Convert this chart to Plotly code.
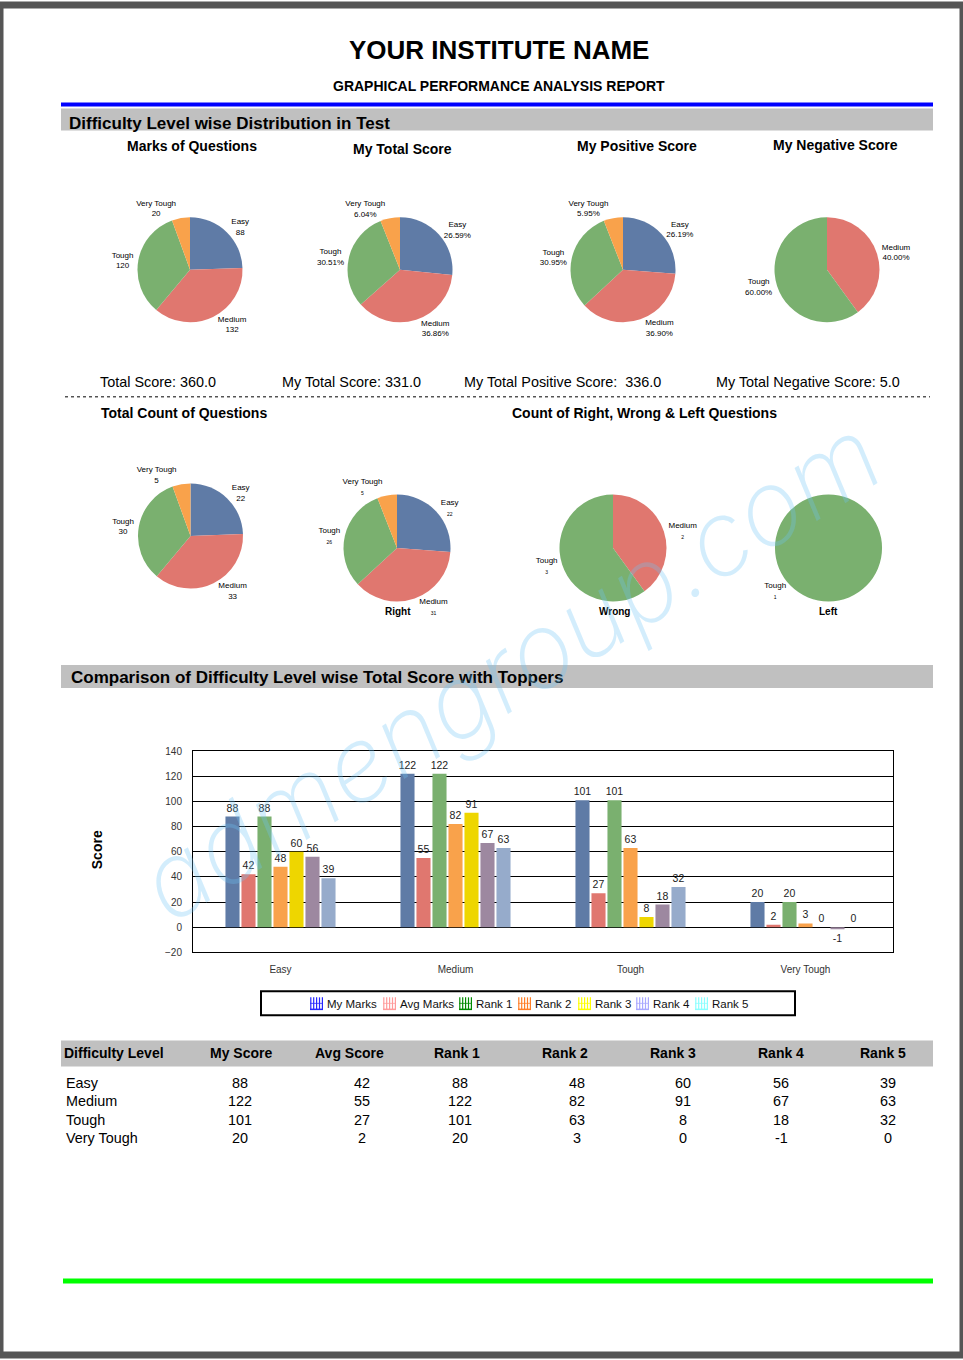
import plotly.graph_objects as go

W, H = 963, 1360
FONT = "Liberation Sans, Arial, sans-serif"

# ---------------- data ----------------
levels = ["Easy", "Medium", "Tough", "Very Tough"]
marks_of_questions = [88, 132, 120, 20]
my_total_score = [88, 122, 101, 20]
my_positive_score = [88, 124, 104, 20]
negative_levels = ["Medium", "Tough"]
my_negative_score = [2, 3]
count_questions = [22, 33, 30, 5]
right_counts = [22, 31, 26, 5]
wrong_levels = ["Medium", "Tough"]
wrong_counts = [2, 3]
left_levels = ["Tough"]
left_counts = [1]

summary_labels = ["Total Score: ", "My Total Score: ", "My Total Positive Score:  ", "My Total Negative Score: "]
summary_values = [360.0, 331.0, 336.0, 5.0]

series_names = ["My Marks", "Avg Marks", "Rank 1", "Rank 2", "Rank 3", "Rank 4", "Rank 5"]
my_marks = [88, 122, 101, 20]
avg_marks = [42, 55, 27, 2]
rank1 = [88, 122, 101, 20]
rank2 = [48, 82, 63, 3]
rank3 = [60, 91, 8, 0]
rank4 = [56, 67, 18, -1]
rank5 = [39, 63, 32, 0]
series_values = [my_marks, avg_marks, rank1, rank2, rank3, rank4, rank5]

table_headers = ["Difficulty Level", "My Score", "Avg Score", "Rank 1", "Rank 2", "Rank 3", "Rank 4", "Rank 5"]
y_ticks = [-20, 0, 20, 40, 60, 80, 100, 120, 140]

# ---------------- styles ----------------
level_colors = {"Easy": "#5F7BA6", "Medium": "#E0776F", "Tough": "#7AB06F", "Very Tough": "#F9A24B"}
bar_colors = ["#5F7BA6", "#E0776F", "#7AB06F", "#F9A24B", "#EED600", "#9D88A0", "#96ABCB"]
legend_colors = ["#2626FF", "#FF9A9A", "#008A00", "#FF7F27", "#FFFF00", "#A8A8FF", "#8CFFFF"]

# vertical placement calibration of the page
Y_SCALE, Y_OFF = 0.9918, 5.5


def px(x):
    return x / W


def py(y):
    return 1 - ((y - Y_OFF) / Y_SCALE) / H


def txt(x, y, s, size, anchor="center", color="#000", angle=0, family=FONT):
    return dict(x=px(x), y=py(y), xref="paper", yref="paper", text=s, showarrow=False,
                xanchor=anchor, yanchor="middle", textangle=angle,
                font=dict(size=size, color=color, family=family))


def rect(x0, y0, x1, y1, fill, line_w=0, line_c=None, layer="below"):
    return dict(type="rect", xref="paper", yref="paper", x0=px(x0), x1=px(x1), y0=py(y1), y1=py(y0),
                fillcolor=fill, line=dict(width=line_w, color=line_c or fill), layer=layer)


def line(x0, y0, x1, y1, color, width=1, dash="solid", layer="above"):
    return dict(type="line", xref="paper", yref="paper", x0=px(x0), x1=px(x1), y0=py(y0), y1=py(y1),
                line=dict(color=color, width=width, dash=dash), layer=layer)


fig = go.Figure()


def add_pie(labels, values, cx, cy, r, template, name, rotation=0):
    fig.add_trace(go.Pie(
        labels=labels, values=values, name=name,
        domain=dict(x=[px(cx - r), px(cx + r)], y=[py(cy + r), py(cy - r)]),
        marker=dict(colors=[level_colors[l] for l in labels], line=dict(width=0)),
        sort=False, direction="clockwise", rotation=rotation,
        textposition="outside", texttemplate=template,
        outsidetextfont=dict(size=8, color="#000", family=FONT),
        showlegend=False, automargin=False, hoverinfo="label+value+percent",
    ))


add_pie(levels, marks_of_questions, 190, 270, 52.5, "%{label}<br>%{value}", "Marks of Questions")
add_pie(levels, my_total_score, 400, 270, 52.5, "%{label}<br>%{percent:.2%}", "My Total Score")
add_pie(levels, my_positive_score, 623, 270, 52.5, "%{label}<br>%{percent:.2%}", "My Positive Score")
add_pie(negative_levels, my_negative_score, 827, 270, 52.5, "%{label}<br>%{percent:.2%}", "My Negative Score")
add_pie(levels, count_questions, 190.5, 536, 52.5, "%{label}<br>%{value}", "Total Count")
small = "%{label}<br><span style='font-size:5px'>%{value}</span>"
add_pie(levels, right_counts, 397, 548, 53.5, small, "Right")
add_pie(wrong_levels, wrong_counts, 613, 548, 53.5, small, "Wrong")
add_pie(left_levels, left_counts, 828.5, 548, 53.5, small, "Left", rotation=45)

for name, vals, col in zip(series_names, series_values, bar_colors):
    fig.add_trace(go.Bar(
        x=levels, y=vals, name=name, marker=dict(color=col, line=dict(width=0)),
        text=vals, textposition="outside", constraintext="none", cliponaxis=False,
        textfont=dict(size=10.5, color="#222", family=FONT), showlegend=False,
    ))

shapes = []
annotations = []

# page frame
shapes.append(dict(type="rect", xref="paper", yref="paper", x0=0, x1=1, y0=0, y1=1,
                   line=dict(color="#555555", width=7), fillcolor="rgba(0,0,0,0)", layer="above"))

# header
annotations.append(txt(499, 50, "<b>YOUR INSTITUTE NAME</b>", 26))
annotations.append(txt(499, 86, "<b>GRAPHICAL PERFORMANCE ANALYSIS REPORT</b>", 14))
shapes.append(rect(61, 103, 933, 107, "#0000FF"))
shapes.append(rect(61, 109, 933, 131, "#C0C0C0"))
annotations.append(txt(67, 123.5, "<b>Difficulty Level wise Distribution in Test</b>", 17, anchor="left"))

# pie titles
for t, x, y in [("Marks of Questions", 192, 146), ("My Total Score", 402, 149),
                ("My Positive Score", 637, 146), ("My Negative Score", 835, 145),
                ("Total Count of Questions", 184, 413),
                ("Count of Right, Wrong & Left Questions", 644, 413)]:
    annotations.append(txt(x, y, "<b>%s</b>" % t, 14))

for t, x in [("Right", 398), ("Wrong", 614), ("Left", 828)]:
    annotations.append(txt(x, 611, "<b>%s</b>" % t, 10))

# summary line
for lab, val, x in zip(summary_labels, summary_values, [98, 280, 462, 714]):
    annotations.append(txt(x, 382, "%s%.1f" % (lab.replace("  ", "&nbsp; "), val), 14.4, anchor="left"))
shapes.append(line(65, 397, 930, 397, "#000", 1, "dot"))

# comparison band
shapes.append(rect(61, 665, 933, 688, "#C0C0C0"))
annotations.append(txt(69, 677, "<b>Comparison of Difficulty Level wise Total Score with Toppers</b>", 17, anchor="left"))
annotations.append(txt(97, 850, "<b>Score</b>", 14, angle=-90))

# manual legend
shapes.append(rect(261, 991, 795, 1015, "rgba(0,0,0,0)", 2, "#000", layer="above"))
legend_x = [310, 383, 459, 518, 578, 636, 695]
for name, col, x0 in zip(series_names, legend_colors, legend_x):
    for k in range(5):
        shapes.append(line(x0 + 0.8 + k * 2.9, 997, x0 + 0.8 + k * 2.9, 1009, col, 1.2))
    shapes.append(line(x0, 1009, x0 + 13, 1009, col, 1.5))
    shapes.append(line(x0, 1003, x0 + 13, 1003, col, 0.8))
    annotations.append(txt(x0 + 15, 1003.5, name, 11.5, anchor="left", color="#111"))

# table
shapes.append(rect(61, 1040, 933, 1066, "#C0C0C0"))
head_x = [62, 241, 349, 457, 565, 673, 781, 883]
val_x = [64, 240, 362, 460, 577, 683, 781, 888]
row_y = [1083, 1101, 1120, 1138]
for j, h in enumerate(table_headers):
    annotations.append(txt(head_x[j], 1053, "<b>%s</b>" % h, 14, anchor="left" if j == 0 else "center"))
for i, lev in enumerate(levels):
    annotations.append(txt(val_x[0], row_y[i], lev, 14.4, anchor="left"))
    for j, vals in enumerate(series_values):
        annotations.append(txt(val_x[j + 1], row_y[i], str(vals[i]), 14.4))

# footer line
shapes.append(rect(63, 1278, 933, 1283, "#00FF00"))

# watermark
annotations.append(dict(x=px(510), y=py(668), xref="paper", yref="paper", text="admengroup.com",
                        showarrow=False, textangle=-32,
                        font=dict(size=104, color="rgba(110,195,245,0.30)", family="Inter, Noto Sans",
                                  weight=200, style="italic")))

fig.update_layout(
    width=W, height=H, margin=dict(l=0, r=0, t=0, b=0),
    paper_bgcolor="white", plot_bgcolor="white",
    barmode="group", bargap=0.36, bargroupgap=0.12,
    showlegend=False,
    xaxis=dict(domain=[px(193), px(893)], type="category", showline=True, mirror=True,
               linecolor="#000", linewidth=1, showgrid=False, ticks="",
               tickfont=dict(size=10, color="#333", family=FONT), ticklabelstandoff=8),
    yaxis=dict(domain=[py(952), py(751)], range=[-20, 140], tickvals=y_ticks, showline=True, mirror=True,
               linecolor="#000", linewidth=1, showgrid=True, gridcolor="#000", gridwidth=1,
               zeroline=True, zerolinecolor="#000", zerolinewidth=1, ticks="",
               tickfont=dict(size=10, color="#333", family=FONT), ticklabelstandoff=8),
    shapes=shapes, annotations=annotations,
    font=dict(family=FONT, color="#000"),
)

fig.write_html("out.html", config={"displayModeBar": False},
               post_script="document.body.style.margin='0';document.body.style.overflow='hidden';")
